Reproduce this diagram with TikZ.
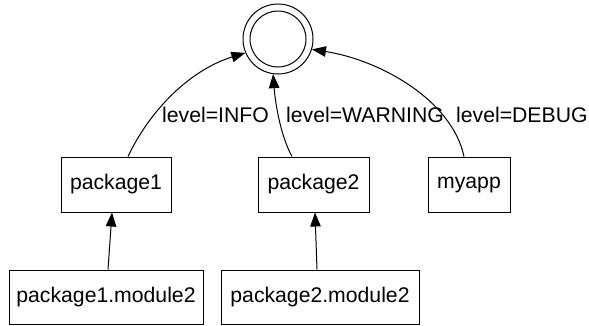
\documentclass[tikz,border=0pt]{standalone}
\usepackage{fontspec}
\setmainfont{Liberation Sans}
\usetikzlibrary{arrows.meta}
\begin{document}
\begin{tikzpicture}[x=1pt,y=1pt,
  every node/.style={font=\fontsize{21.2}{25}\selectfont},
  box/.style={draw,line width=1pt,rectangle,inner sep=0pt,minimum height=55pt},
  ring/.style={draw,line width=1pt,circle,inner sep=0pt},
  arr/.style={line width=1pt,-{Triangle[length=14pt,width=10.5pt]}},
  lbl/.style={inner sep=0pt,anchor=base west}]
\useasboundingbox (0,0) rectangle (589,-325);
\node[ring,minimum size=70pt] (c) at (278,-39) {};
\node[ring,minimum size=56pt] (ci) at (c) {};
\node[box,minimum width=110pt] (p1) at (116,-184.5) {package1};
\node[box,minimum width=111pt] (p2) at (313.5,-184.5) {package2};
\node[box,minimum width=82pt] (my) at (469,-184.5) {myapp};
\node[box,minimum width=194pt,minimum height=54pt] (p1m) at (106,-297) {package1.module2};
\node[box,minimum width=198pt,minimum height=54pt] (p2m) at (320,-297) {package2.module2};
\draw[arr] ([xshift=2pt]p1m.north) -- ([xshift=-4pt]p1.south);
\draw[arr] ([xshift=-3pt]p2m.north) -- ([xshift=1.5pt]p2.south);
\draw[arr] ([xshift=12pt]p1.north) .. controls (150,-110) and (190,-70) .. (c.203.6);
\draw[arr] ([xshift=-21.5pt]p2.north) .. controls (280,-135) and (275,-100) .. (c.262);
\draw[arr] ([xshift=-5pt]my.north) .. controls (452,-100) and (380,-60) .. (c.343);
\node[lbl] (l1) at (162,-122) {level=INFO};
\node[lbl] (l2) at (286,-122) {level=WARNING};
\node[lbl] (l3) at (456,-122) {level=DEBUG};
\end{tikzpicture}
\end{document}
